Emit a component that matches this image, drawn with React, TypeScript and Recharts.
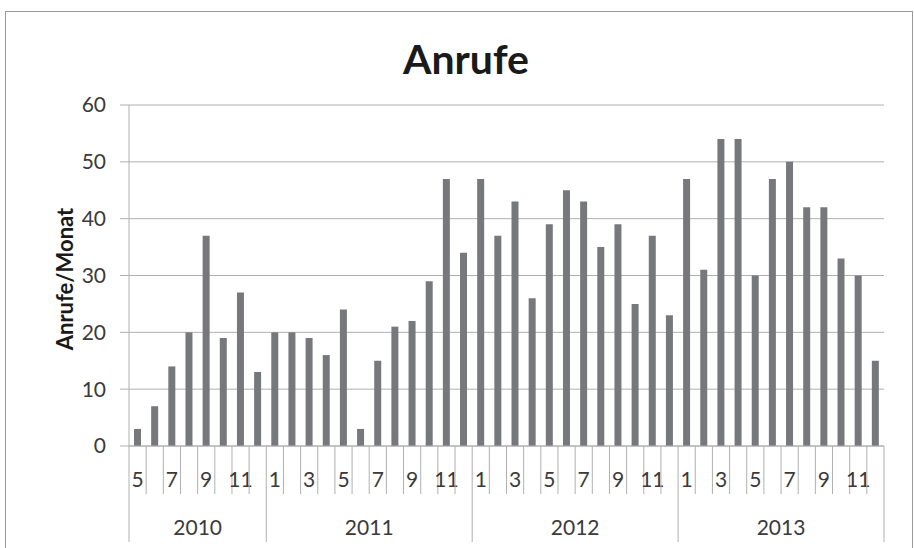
import React from 'react';
import { BarChart, Bar, XAxis, YAxis, CartesianGrid } from 'recharts';

const months: number[] = [
  5, 6, 7, 8, 9, 10, 11, 12,
  1, 2, 3, 4, 5, 6, 7, 8, 9, 10, 11, 12,
  1, 2, 3, 4, 5, 6, 7, 8, 9, 10, 11, 12,
  1, 2, 3, 4, 5, 6, 7, 8, 9, 10, 11, 12,
];
const years: number[] = [
  2010, 2010, 2010, 2010, 2010, 2010, 2010, 2010,
  2011, 2011, 2011, 2011, 2011, 2011, 2011, 2011, 2011, 2011, 2011, 2011,
  2012, 2012, 2012, 2012, 2012, 2012, 2012, 2012, 2012, 2012, 2012, 2012,
  2013, 2013, 2013, 2013, 2013, 2013, 2013, 2013, 2013, 2013, 2013, 2013,
];
const calls: number[] = [
  3, 7, 14, 20, 37, 19, 27, 13,
  20, 20, 19, 16, 24, 3, 15, 21, 22, 29, 47, 34,
  47, 37, 43, 26, 39, 45, 43, 35, 39, 25, 37, 23,
  47, 31, 54, 54, 30, 47, 50, 42, 42, 33, 30, 15,
];
const yTicks: number[] = [0, 10, 20, 30, 40, 50, 60];

const data = calls.map((v, i) => ({ key: `${years[i]}-${months[i]}`, month: months[i], year: years[i], calls: v }));

const FONT = 'Lato, "Open Sans", sans-serif';
const TEXT = '#3A3A3A';
const LINE = '#B0B0B0';

const MonthTick = (props: any) => {
  const { x, y, payload, index } = props;
  const half = payload && payload.offset ? payload.offset : 8.58;
  const i = index;
  const d = data[i];
  if (!d) return null;
  const left = x - half;
  const right = x + half;
  const isYearStart = i === 0 || data[i - 1].year !== d.year;
  const isLast = i === data.length - 1;
  const yearIdx = data.map((e, j) => (e.year === d.year ? j : -1)).filter((j) => j >= 0);
  const mid = yearIdx[Math.floor(yearIdx.length / 2)];
  const els: React.ReactNode[] = [];
  els.push(<line key="l" x1={left} x2={left} y1={y} y2={isYearStart ? y + 96 : y + 48} stroke={LINE} strokeWidth={1} />);
  if (isLast) {
    els.push(<line key="r" x1={right} x2={right} y1={y} y2={y + 96} stroke={LINE} strokeWidth={1} />);
  }
  if (d.month % 2 === 1) {
    els.push(
      <text key="t" x={x} y={y + 41} textAnchor="middle" fontSize={21} fontFamily={FONT} fill={TEXT}>
        {d.month}
      </text>
    );
  }
  if (i === mid) {
    els.push(
      <text key="y" x={left} y={y + 89} textAnchor="middle" fontSize={21} fontFamily={FONT} fill={TEXT}>
        {d.year}
      </text>
    );
  }
  return <g>{els}</g>;
};

const YLabel = (props: any) => {
  return (
    <text
      x={73}
      y={279}
      transform="rotate(-90 73 279)"
      textAnchor="middle"
      fontSize={22}
      fontWeight="bold"
      fontFamily={FONT}
      fill="#1a1a1a"
    >
      Anrufe/Monat
    </text>
  );
};

export default function App() {
  return (
    <div style={{ position: 'absolute', left: 0, top: 0, width: 914, height: 548, background: '#fff', overflow: 'hidden' }}>
      <div style={{ position: 'absolute', left: 5, top: 11, width: 908, height: 560, border: '1px solid #9A9A9A', boxSizing: 'border-box' }} />
      <svg style={{ position: 'absolute', left: 0, top: 0 }} width={914} height={100}>
        <text x={466} y={74} textAnchor="middle" fontSize={41} fontWeight="bold" fontFamily={FONT} fill="#1a1a1a">
          Anrufe
        </text>
      </svg>
      <div style={{ position: 'absolute', left: 0, top: 0 }}>
        <BarChart width={914} height={548} data={data} margin={{ top: 105, right: 30, bottom: 0, left: 0 }} barCategoryGap={0}>
          <CartesianGrid horizontal vertical={false} stroke={LINE} strokeWidth={1} />
          <YAxis
            width={129}
            domain={[0, 60]}
            ticks={yTicks}
            interval={0}
            axisLine={{ stroke: LINE }}
            tickLine={{ stroke: LINE }}
            tickSize={9}
            tickMargin={14}
            tick={{ fontSize: 21, fontFamily: FONT, fill: TEXT }}
            label={<YLabel />}
          />
          <XAxis
            dataKey="key"
            height={102}
            interval={0}
            tickSize={0}
            tickMargin={0}
            tickLine={false}
            axisLine={{ stroke: LINE }}
            tick={<MonthTick />}
          />
          <Bar dataKey="calls" fill="#77787C" barSize={7} isAnimationActive={false} />
        </BarChart>
      </div>
    </div>
  );
}
